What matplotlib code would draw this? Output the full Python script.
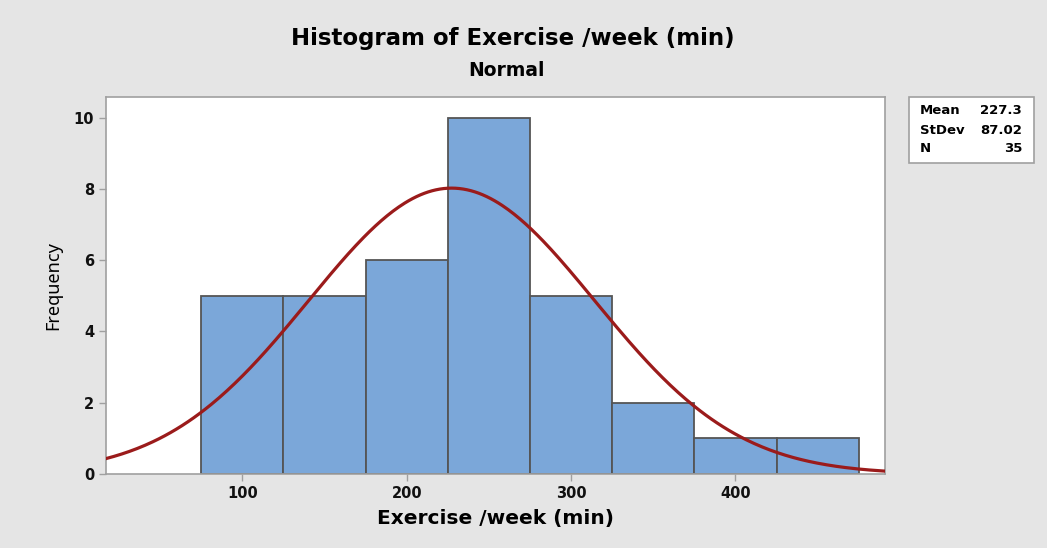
import numpy as np
import matplotlib
matplotlib.use("Agg")
import matplotlib.pyplot as plt
from matplotlib.patches import Rectangle

plt.rcParams['font.family'] = ['DejaVu Sans']

# histogram data
bin_centers = [100, 150, 200, 250, 300, 350, 400, 450]
counts = [5, 5, 6, 10, 5, 2, 1, 1]
bin_width = 50
mean = 227.3
stdev = 87.02
n = 35
x_ticks = [100, 200, 300, 400]
y_ticks = [0, 2, 4, 6, 8, 10]

bg = "#e5e5e5"
fig = plt.figure(figsize=(10.47, 5.48), dpi=100, facecolor=bg)
ax = fig.add_axes([106/1047, 1 - 474/548, 779/1047, 377/548])
ax.set_facecolor("white")

ax.bar(bin_centers, counts, width=bin_width, color="#7ba7d9",
       edgecolor="#555555", linewidth=1.3, zorder=2)

# fitted normal curve scaled to counts
xs = np.linspace(17, 491, 400)
ys = n * bin_width / (stdev * np.sqrt(2 * np.pi)) * np.exp(-0.5 * ((xs - mean) / stdev) ** 2)
ax.plot(xs, ys, color="#9b1b1b", linewidth=2.3, zorder=3)

ax.set_xlim(17, 491)
ax.set_ylim(0, 10.58)
ax.set_xticks(x_ticks)
ax.set_yticks(y_ticks)
for s in ax.spines.values():
    s.set_color("#a0a0a0")
    s.set_linewidth(1.2)
ax.tick_params(colors="#a0a0a0", labelcolor="#111111", length=5, width=1)
for lab in ax.get_xticklabels() + ax.get_yticklabels():
    lab.set_fontsize(10.5)
    lab.set_fontweight("bold")

ax.set_xlabel("Exercise /week (min)", fontsize=14.5, fontweight="bold", labelpad=6)
ax.set_ylabel("Frequency", fontsize=13, labelpad=8, family=["Noto Sans", "DejaVu Sans"])

fig.text(513 / 1047, 1 - 39 / 548, "Histogram of Exercise /week (min)",
         ha="center", va="center", fontsize=16.5, fontweight="bold")
fig.text(507 / 1047, 1 - 70 / 548, "Normal", ha="center", va="center",
         fontsize=13.5, fontweight="bold")

# statistics box
fig.patches.append(Rectangle((909 / 1047, 1 - 163 / 548), 125 / 1047, 66 / 548,
                             transform=fig.transFigure, facecolor="white",
                             edgecolor="#a0a0a0", linewidth=1.2))
stats = [("Mean", "227.3"), ("StDev", "87.02"), ("N", "35")]
for i, (k, v) in enumerate(stats):
    y = 1 - (111 + i * 19) / 548
    fig.text(920 / 1047, y, k, ha="left", va="center", fontsize=9.5, fontweight="bold")
    fig.text(1022 / 1047, y, v, ha="right", va="center", fontsize=9.5, fontweight="bold")

fig.savefig("out.png", dpi=100, facecolor=bg)
